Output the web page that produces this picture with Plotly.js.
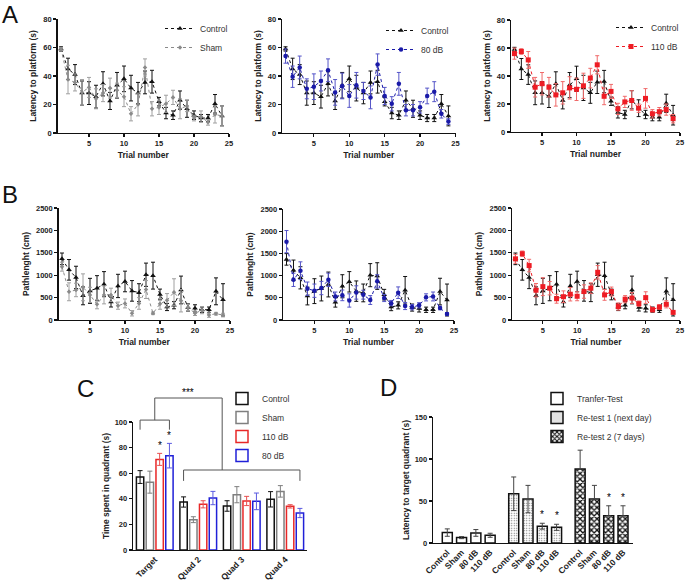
<!DOCTYPE html>
<html><head><meta charset="utf-8">
<script src="https://cdn.plot.ly/plotly-3.0.1.min.js"></script>
<style>html,body{margin:0;padding:0;background:#fff}#chart{width:685px;height:582px}</style>
</head><body><div id="chart"></div>
<script>
// ---------- data ----------
const trials = [1,2,3,4,5,6,7,8,9,10,11,12,13,14,15,16,17,18,19,20,21,22,23,24];
const trialTicks = [5,10,15,20,25];

const ctrlLat    = [59,45,41,28,28,25.5,34.5,22.5,33.5,38,31.5,28,35.5,36,22,14,12.5,23,17,12.5,10.5,10.5,20.5,12];
const ctrlLatErr = [1.5,7.5,7,8.5,8,8,8.5,6,9,9,9,7.5,8,8,3,4,3,6.5,6,3,2.5,2.5,6.5,7];
const shamLat    = [59,37.5,35.5,28.5,32,24,28,31.5,30,25.5,13.5,20,46,17,18,20.5,25,17,19,10.5,11.5,7.5,13,12];
const shamLatErr = [1,10,6,9,7,7,6,7,5,7,5,8,6,5,5,6,5,7,4,2,4,2,6,7];
const db80Lat    = [54,39.5,46,31,32.5,36.5,44,28.5,33,26,33.5,29.5,25,48,26,20.5,34.5,16,16,18,26,29,13.5,8];
const db80LatErr = [5,7.5,8,7,9,7,8,9,9,8,9,6,8,7.5,6,5,8,4,4,4,5.5,7,3,2];
const db110Lat   = [56,57.5,51.5,32,34.5,32,26.5,28,31.5,30.5,33,38.5,48,25.5,29,16.5,21.5,22.5,17,24,13,14.5,16,9.5];
const db110LatErr= [4,2,6,7,8,7,8,8,8,8,9,7,6.5,6,5,4,4,7,3,7,3,3,4,3];

const ctrlPath    = [1365,1120,950,540,650,710,800,400,760,860,650,610,1010,990,570,290,330,670,280,260,230,230,640,450];
const ctrlPathErr = [130,230,250,200,280,280,280,110,260,230,230,200,260,300,120,80,80,310,80,80,60,60,300,360];
const shamPath    = [1190,630,670,730,560,350,560,560,320,370,150,370,680,150,360,440,620,430,280,150,220,110,140,110];
const shamPathErr = [100,200,150,300,170,100,200,150,80,100,60,130,200,30,120,150,300,250,70,50,80,50,30,40];
const db80Path    = [1765,905,1110,705,660,720,905,530,555,440,620,570,450,870,495,380,615,315,290,330,510,530,270,135];
const db80PathErr = [250,150,200,150,150,150,150,100,120,150,150,100,100,150,80,60,130,80,60,60,80,100,40,30];
const db110Path   = [1365,1480,1215,665,745,710,475,520,575,530,635,710,1065,560,635,300,465,490,365,500,230,290,350,170];
const db110PathErr= [100,60,140,150,200,150,100,130,150,100,150,120,150,120,100,80,80,120,60,130,50,50,80,30];

const quadCats    = ['Target','Quad 2','Quad 3','Quad 4'];
const quadCtrl    = [57,37.5,34.4,39.6];
const quadCtrlErr = [5,4,4.1,6];
const quadSham    = [53,23.7,43.2,45.8];
const quadShamErr = [8.6,2.3,6.3,4.5];
const quad110     = [70.8,35.7,38.3,34.1];
const quad110Err  = [4.7,2.8,3.6,1.3];
const quad80      = [73.7,40.6,38,28.9];
const quad80Err   = [9.6,5.2,6.5,3.6];
const quadStars   = [null,null,'*','*']; // Target group stars for (Control, Sham, 110, 80)

const dGroupLabels = ['Control','Sham','80 dB','110 dB'];
const transferLat    = [12.4,6.4,12,9.2];
const transferErr    = [4.4,1.2,4,2.4];
const retest1Lat     = [58.6,52.3,20,18.7];
const retest1Err     = [20,16.3,3.5,3.6];
const retest2Lat     = [88.2,52.3,32.3,32.3];
const retest2Err     = [22.3,16.3,12,12];
const retest1Stars   = ['','','*','*'];
const retest2Stars   = ['','','*','*'];

// ---------- helpers ----------
const FONT = 'Liberation Sans, Arial, sans-serif';
const W = 685, H = 582;
const px = v => v / W;
const py = v => 1 - v / H;

const styles = {
  ctrl: {color:'#111111', err:'#111111', symbol:'triangle-up', size:5, dash:'dot'},
  sham: {color:'#8a8a8a', err:'#a0a0a0', symbol:'diamond', size:3.5, dash:'dot'},
  d80:  {color:'#1a1aa8', err:'#5555c8', symbol:'circle', size:4.5, dash:'dot'},
  d110: {color:'#ee1c24', err:'#f06a6a', symbol:'square', size:5, dash:'dot'}
};

function lineTrace(y, err, name, st, xa, ya, legend, showlegend) {
  return {
    type:'scatter', mode:'lines+markers', x:trials, y:y, name:name,
    xaxis:xa, yaxis:ya, legend:legend, showlegend:showlegend,
    line:{color:st.color, width:1, dash:st.dash},
    marker:{color:st.color, symbol:st.symbol, size:st.size},
    error_y:{type:'data', array:err, visible:true, color:st.err, thickness:1, width:2}
  };
}

const traces = [];
// A panels
traces.push(lineTrace(ctrlLat, ctrlLatErr, 'Control', styles.ctrl, 'x', 'y', 'legend', true));
traces.push(lineTrace(shamLat, shamLatErr, 'Sham', styles.sham, 'x', 'y', 'legend', true));
traces.push(lineTrace(ctrlLat, ctrlLatErr, 'Control', styles.ctrl, 'x2', 'y2', 'legend2', true));
traces.push(lineTrace(db80Lat, db80LatErr, '80 dB', styles.d80, 'x2', 'y2', 'legend2', true));
traces.push(lineTrace(ctrlLat, ctrlLatErr, 'Control', styles.ctrl, 'x3', 'y3', 'legend3', true));
traces.push(lineTrace(db110Lat, db110LatErr, '110 dB', styles.d110, 'x3', 'y3', 'legend3', true));
// B panels
traces.push(lineTrace(ctrlPath, ctrlPathErr, 'Control', styles.ctrl, 'x4', 'y4', 'legend', false));
traces.push(lineTrace(shamPath, shamPathErr, 'Sham', styles.sham, 'x4', 'y4', 'legend', false));
traces.push(lineTrace(ctrlPath, ctrlPathErr, 'Control', styles.ctrl, 'x5', 'y5', 'legend', false));
traces.push(lineTrace(db80Path, db80PathErr, '80 dB', styles.d80, 'x5', 'y5', 'legend', false));
traces.push(lineTrace(ctrlPath, ctrlPathErr, 'Control', styles.ctrl, 'x6', 'y6', 'legend', false));
traces.push(lineTrace(db110Path, db110PathErr, '110 dB', styles.d110, 'x6', 'y6', 'legend', false));

// C panel bars
const BARGAP = 0.1, BARGROUPGAP = 0.25;
const cSeries = [
  {name:'Control', y:quadCtrl, e:quadCtrlErr, c:'#111111', ec:'#111111'},
  {name:'Sham', y:quadSham, e:quadShamErr, c:'#7f7f7f', ec:'#7f7f7f'},
  {name:'110 dB', y:quad110, e:quad110Err, c:'#e82828', ec:'#e85050'},
  {name:'80 dB', y:quad80, e:quad80Err, c:'#2020d8', ec:'#5a5ae0'}
];
cSeries.forEach(s => traces.push({
  type:'bar', x:quadCats, y:s.y, name:s.name, xaxis:'x7', yaxis:'y7', legend:'legend4',
  marker:{color:'white', line:{color:s.c, width:1.5}},
  error_y:{type:'data', array:s.e, visible:true, color:s.ec, thickness:1, width:2.5}
}));
const slot = (1 - BARGAP) / cSeries.length;
const barOffset = i => (i - (cSeries.length - 1) / 2) * slot;

// D panel bars
const GROUP_STRIDE = 4.65;
const dPos = g => dGroupLabels.map((_, i) => g * GROUP_STRIDE + i);
const dTickVals = [].concat(dPos(0), dPos(1), dPos(2));
const dTickText = [].concat(dGroupLabels, dGroupLabels, dGroupLabels);
const dSeries = [
  {name:'Tranfer-Test', y:transferLat, e:transferErr, em:transferErr, pattern:{shape:''}},
  {name:'Re-test 1 (next day)', y:retest1Lat, e:retest1Err, em:retest1Err,
   pattern:{shape:'.', bgcolor:'white', fgcolor:'#666', size:2.5, solidity:0.2, fillmode:'replace'}},
  {name:'Re-test 2 (7 days)', y:retest2Lat, e:retest2Err, em:retest2Err.map(() => 0),
   pattern:{shape:'x', bgcolor:'white', fgcolor:'#111', size:4, solidity:0.55, fillmode:'replace'}}
];
dSeries.forEach((s, g) => traces.push({
  type:'bar', x:dPos(g), y:s.y, name:s.name, xaxis:'x8', yaxis:'y8', legend:'legend5',
  width:0.7, offsetgroup:'d',
  marker:{color:'white', line:{color:'#111', width:1.5}, pattern:s.pattern},
  error_y:{type:'data', array:s.e, arrayminus:s.em, symmetric:false, visible:true, color:'#444', thickness:1, width:2.5}
}));

// ---------- axes ----------
const tickFont = {family:FONT, size:7.5, color:'#222', weight:'bold'};
const titleFont = {family:FONT, size:8.5, color:'#222', weight:'bold'};
function baseAxis(extra) {
  return Object.assign({
    showgrid:false, zeroline:false, showline:true, linecolor:'#111', linewidth:1.3,
    ticks:'outside', ticklen:3, tickwidth:1.2, tickcolor:'#111', tickfont:tickFont,
    fixedrange:true
  }, extra);
}
function trialX(d0, d1, anchor) {
  return baseAxis({domain:[px(d0), px(d1)], anchor:anchor, range:[0.5, 25],
    tickvals:trialTicks, ticktext:trialTicks.map(String),
    title:{text:'Trial number', font:titleFont, standoff:4}});
}
function latY(d0, d1, anchor) {
  return baseAxis({domain:[py(d1), py(d0)], anchor:anchor, range:[0, 80], tickvals:[0,20,40,60,80],
    title:{text:'Latency to platform (s)', font:titleFont, standoff:5}});
}
function pathY(d0, d1, anchor) {
  return baseAxis({domain:[py(d1), py(d0)], anchor:anchor, range:[0, 2500], tickvals:[0,500,1000,1500,2000,2500],
    title:{text:'Pathlenght (cm)', font:titleFont, standoff:5}});
}

const layout = {
  width:W, height:H, margin:{l:0, r:0, t:0, b:0},
  paper_bgcolor:'white', plot_bgcolor:'white',
  font:{family:FONT, color:'#222'},
  barmode:'group', bargap:BARGAP, bargroupgap:BARGROUPGAP,
  xaxis: trialX(57.5, 229, 'y'),   yaxis: latY(19, 133, 'x'),
  xaxis2: trialX(282, 455.5, 'y2'), yaxis2: latY(19, 133, 'x2'),
  xaxis3: trialX(511, 680, 'y3'),   yaxis3: latY(20, 132, 'x3'),
  xaxis4: trialX(58.5, 230, 'y4'),  yaxis4: pathY(208, 320, 'x4'),
  xaxis5: trialX(283, 454, 'y5'),   yaxis5: pathY(209, 320, 'x5'),
  xaxis6: trialX(512, 680, 'y6'),   yaxis6: pathY(208, 320, 'x6'),
  xaxis7: baseAxis({domain:[px(133), px(307)], anchor:'y7', type:'category', range:[-0.5, 3.5],
    tickangle:-45, tickfont:Object.assign({}, tickFont, {size:8.5}), ticks:''}),
  yaxis7: baseAxis({domain:[py(550), py(422)], anchor:'x7', range:[0, 100], tickvals:[0,20,40,60,80,100],
    title:{text:'Time spent in quadrant (s)', font:titleFont, standoff:3}}),
  xaxis8: baseAxis({domain:[px(433), px(633)], anchor:'y8', range:[-1, 13],
    tickvals:dTickVals, ticktext:dTickText, tickangle:-45, ticks:'',
    tickfont:Object.assign({}, tickFont, {size:8.5})}),
  yaxis8: baseAxis({domain:[py(543), py(417)], anchor:'x8', range:[0, 150], tickvals:[0,50,100,150],
    title:{text:'Latency to target quadrant (s)', font:titleFont, standoff:3}}),
  showlegend:true
};

const legFont = {family:FONT, size:8.5, color:'#333'};
function leg(xPx, yPx) {
  return {x:px(xPx), y:py(yPx), xanchor:'left', yanchor:'top', font:legFont,
    bgcolor:'rgba(0,0,0,0)', borderwidth:0, tracegroupgap:0, itemwidth:30};
}
layout.legend  = leg(160, 14);
layout.legend2 = leg(381, 16);
layout.legend3 = leg(611, 13);
layout.legend4 = leg(222, 384);
layout.legend5 = leg(537, 384);

// ---------- annotations ----------
const ann = [];
[['A', 10, 14], ['B', 10, 195], ['C', 85, 388], ['D', 388, 387]].forEach(([t, x, y]) => ann.push({
  text:t, x:px(x), y:py(y), xref:'paper', yref:'paper', showarrow:false,
  xanchor:'center', yanchor:'middle', font:{family:FONT, size:24, color:'#111'}
}));

// C significance brackets (heights in y7 data units, converted to domain fraction)
const cMax = 100;
const dom = v => v / cMax;
const targetLeft = 0 + barOffset(0), targetRight = 0 + barOffset(3);
const otherLeft = 1 + barOffset(0), otherRight = 3 + barOffset(3);
const brTargetY = 101.5, brTargetLeg = 94, brOtherY = 62.5, brOtherLeg = 54, brTopY = 118.75, brTopRight = 1.55;
const shapes = [];
const seg = (x0, y0, x1, y1) => shapes.push({type:'line', xref:'x7', yref:'y7 domain',
  x0:x0, x1:x1, y0:dom(y0), y1:dom(y1), line:{color:'#555', width:1}});
seg(targetLeft, brTargetLeg, targetLeft, brTargetY);
seg(targetLeft, brTargetY, targetRight, brTargetY);
seg(targetRight, brTargetY, targetRight, brTargetLeg);
seg(otherLeft, brOtherLeg, otherLeft, brOtherY);
seg(otherLeft, brOtherY, otherRight, brOtherY);
seg(otherRight, brOtherY, otherRight, brOtherLeg);
const tMid = (targetLeft + targetRight) / 2;
seg(tMid, brTargetY, tMid, brTopY);
seg(tMid, brTopY, brTopRight, brTopY);
seg(brTopRight, brTopY, brTopRight, brOtherY);
const starFont = {family:FONT, size:10, color:'#000'};
ann.push({text:'***', xref:'x7', yref:'y7 domain', x:(tMid + brTopRight) / 2, y:dom(brTopY),
  yanchor:'bottom', showarrow:false, font:starFont, yshift:-2});
cSeries.forEach((s, i) => {
  if (quadStars[i]) ann.push({text:quadStars[i], xref:'x7', yref:'y7', x:0 + barOffset(i),
    y:s.y[0] + s.e[0], yanchor:'bottom', showarrow:false, font:starFont, yshift:0});
});
// D stars
[[1, retest1Lat, retest1Err, retest1Stars], [2, retest2Lat, retest2Err, retest2Stars]].forEach(([g, v, e, st]) => {
  dPos(g).forEach((xp, i) => {
    if (st[i]) ann.push({text:st[i], xref:'x8', yref:'y8', x:xp, y:v[i] + e[i], yanchor:'bottom',
      showarrow:false, font:starFont, yshift:1});
  });
});
layout.annotations = ann;
layout.shapes = shapes;

Plotly.newPlot('chart', traces, layout, {displayModeBar:false, staticPlot:true});
</script>
</body></html>
